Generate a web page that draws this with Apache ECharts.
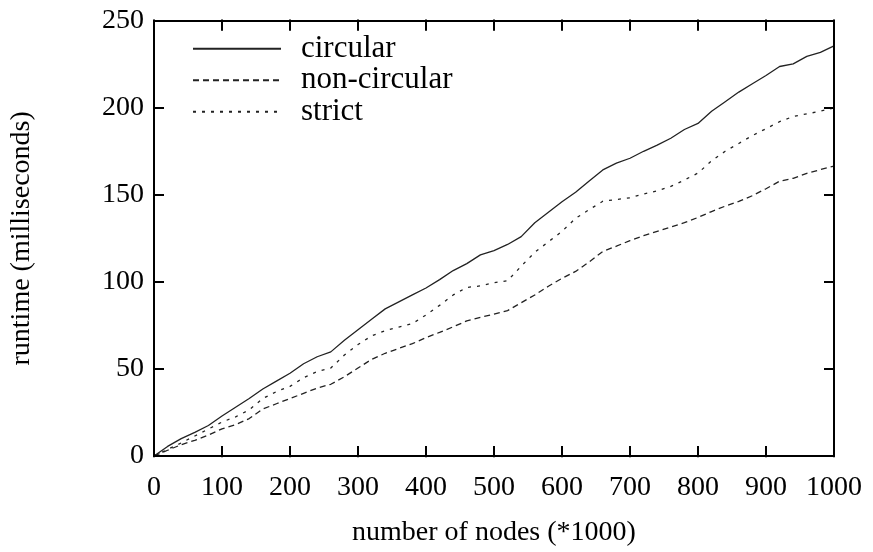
<!DOCTYPE html>
<html>
<head>
<meta charset="utf-8">
<script src="https://cdn.jsdelivr.net/npm/echarts@6/dist/echarts.min.js"></script>
<style>
html,body{margin:0;padding:0;background:#fff;}
#chart{width:873px;height:552px;}
</style>
</head>
<body>
<div id="chart"></div>
<script>
var nodes = [0,20,40,60,80,100,120,140,160,180,200,220,240,260,280,300,320,340,360,380,400,420,440,460,480,500,520,540,560,580,600,620,640,660,680,700,720,740,760,780,800,820,840,860,880,900,920,940,960,980,1000];
var circular = [0,5.5,10,13.6,17.5,23,28,33,38.5,43,47.5,53,57,59.8,66.5,72.5,78.5,84.5,88.5,92.5,96.5,101.3,106.5,110.5,115.5,118,121.5,126,134,140,146,151.5,158,164.3,168.2,171,175,178.5,182.5,187.5,191,198,203.5,209,213.8,218.5,223.7,225.2,229.5,231.8,235.5];
var nonCircular = [0,3.3,6.5,9,12,15.6,18,21.5,27,30,33,36,39,41.2,45.5,50.5,55.5,59,61.8,64.5,68,71,74.2,77.6,79.6,81.5,83.5,88,92.5,97.5,102,106,111.5,117.5,120.5,123.7,126.5,129,131.5,134,137,140.4,143.5,146.2,149.5,153.5,157.8,159.5,162.3,164.5,166.5];
var strict = [0,3.8,7.5,11.5,15.5,19.5,22.5,26.5,33,37,40,45,48.5,50.5,58,64,69,72,74,76,81,86.5,92.5,96.8,97.7,99.5,100.7,109,117,123,129,136.5,141.5,146.3,147.3,148.3,150.5,152.3,154.8,158.5,162.5,169.5,175,179.5,184,188,192,195,196.5,198,200];
var seriesNames = ['circular','non-circular','strict'];
var xTicks = {min:0, max:1000, interval:100};
var yTicks = {min:0, max:250, interval:50};

function zip(ys){ return nodes.map(function(x,i){ return [x, ys[i]]; }); }

var FONT = 'Liberation Serif';
var W = 873, H = 552;
var G = {left:153.5, right:39, top:20.7, bottom:94.7};
var gridW = W - G.left - G.right, gridH = H - G.top - G.bottom;
var chart = echarts.init(document.getElementById('chart'));
function axisLine(){ return {show:true, onZero:false, lineStyle:{color:'#000', width:2}}; }
function noLine(){ return {show:false, onZero:false}; }
function tickIn(){ return {show:true, inside:true, length:10, lineStyle:{color:'#000', width:2}}; }
function tickOut(){ return {show:true, inside:false, length:10, lineStyle:{color:'#000', width:2}}; }
function xBase(){ return {type:'value', min:xTicks.min, max:xTicks.max, interval:xTicks.interval, splitLine:{show:false}, z:10}; }
function yBase(){ return {type:'value', min:yTicks.min, max:yTicks.max, interval:yTicks.interval, splitLine:{show:false}, z:10}; }
function ext(a,b){ for (var k in b) a[k]=b[k]; return a; }
var lineColor = '#222';
chart.setOption({
  animation:false,
  textStyle:{fontFamily:FONT, color:'#000'},
  grid:{left:G.left, right:G.right, top:G.top, bottom:G.bottom, containLabel:false},
  legend:{
    orient:'vertical', left:192, top:33, padding:0, itemWidth:88, itemHeight:14, itemGap:0,
    data:seriesNames,
    itemStyle:{color:'rgba(0,0,0,0)', borderWidth:0},
    textStyle:{fontFamily:FONT, fontSize:31, lineHeight:31.5, color:'#000', padding:[0,0,0,15]}
  },
  xAxis:[
    ext(xBase(), {position:'bottom',
     name:'number of nodes (*1000)', nameLocation:'middle', nameGap:63,
     nameTextStyle:{fontFamily:FONT, fontSize:28, color:'#000'},
     axisLine:axisLine(), axisTick:tickIn(),
     axisLabel:{fontFamily:FONT, fontSize:28, color:'#000', margin:18, formatter:function(v){return String(v);}}}),
    ext(xBase(), {position:'top', axisLine:axisLine(), axisTick:tickIn(), axisLabel:{show:false}}),
    ext(xBase(), {position:'top', offset:-gridH, axisLine:noLine(), axisTick:tickOut(), axisLabel:{show:false}}),
    ext(xBase(), {position:'bottom', offset:-gridH, axisLine:noLine(), axisTick:tickOut(), axisLabel:{show:false}})
  ],
  yAxis:[
    ext(yBase(), {position:'left',
     name:'runtime (milliseconds)', nameLocation:'middle', nameGap:118, nameRotate:90,
     nameTextStyle:{fontFamily:FONT, fontSize:28, color:'#000'},
     axisLine:axisLine(), axisTick:tickIn(),
     axisLabel:{fontFamily:FONT, fontSize:28, color:'#000', margin:10}}),
    ext(yBase(), {position:'right', axisLine:axisLine(), axisTick:tickIn(), axisLabel:{show:false}}),
    ext(yBase(), {position:'right', offset:-gridW, axisLine:noLine(), axisTick:tickOut(), axisLabel:{show:false}}),
    ext(yBase(), {position:'left', offset:-gridW, axisLine:noLine(), axisTick:tickOut(), axisLabel:{show:false}})
  ],
  series:[
    {name:seriesNames[0], type:'line', data:zip(circular), symbol:'none', smooth:false,
     lineStyle:{color:lineColor, width:1.3, type:'solid'}, itemStyle:{color:lineColor}},
    {name:seriesNames[1], type:'line', data:zip(nonCircular), symbol:'none', smooth:false,
     lineStyle:{color:lineColor, width:1.3, type:[6,4]}, itemStyle:{color:lineColor}},
    {name:seriesNames[2], type:'line', data:zip(strict), symbol:'none', smooth:false,
     lineStyle:{color:lineColor, width:1.3, type:[3,6]}, itemStyle:{color:lineColor}}
  ]
});
</script>
</body>
</html>
